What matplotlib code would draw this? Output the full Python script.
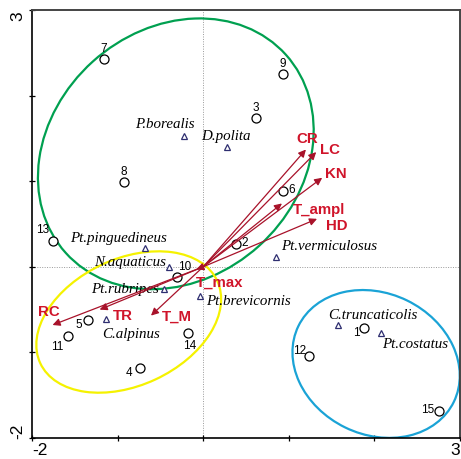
import matplotlib
matplotlib.use("Agg")
import matplotlib.pyplot as plt
from matplotlib.patches import Ellipse

# Site scores (numbered samples)
site_ids = ["1", "2", "3", "4", "5", "6", "7", "8", "9", "10", "11", "12", "13", "14", "15"]
site_x = [1.88, 0.38, 0.62, -0.74, -1.35, 0.93, -1.16, -0.93, 0.93, -0.31, -1.58, 1.24, -1.75, -0.18, 2.75]
site_y = [-0.71, 0.27, 1.74, -1.18, -0.62, 0.89, 2.43, 0.99, 2.25, -0.12, -0.81, -1.04, 0.30, -0.77, -1.68]

# Species scores
species = ["P.borealis", "D.polita", "Pt.pinguedineus", "N.aquaticus", "Pt.rubripes",
           "C.alpinus", "Pt.brevicornis", "Pt.vermiculosus", "C.truncaticolis", "Pt.costatus"]
species_x = [-0.23, 0.28, -0.68, -0.40, -0.46, -1.14, -0.04, 0.85, 1.57, 2.08]
species_y = [1.53, 1.40, 0.22, 0.00, -0.26, -0.61, -0.34, 0.12, -0.68, -0.77]

# Environmental variables (arrow tips)
env = ["CR", "LC", "KN", "T_ampl", "HD", "T_max", "RC", "TR", "T_M"]
env_x = [1.20, 1.32, 1.39, 0.92, 1.33, -0.08, -1.76, -1.21, -0.61]
env_y = [1.37, 1.34, 1.04, 0.74, 0.56, -0.03, -0.68, -0.50, -0.57]

# label placement, in pixels from the mark: (dx, dy, ha)
site_off = {"1": (-8, -4), "2": (9, 2), "3": (0, 11), "4": (-11, -4), "5": (-9, -4),
            "6": (9, 2), "7": (0, 11), "8": (0, 11), "9": (0, 11), "10": (8, 11),
            "11": (-11, -10), "12": (-10, 6), "13": (-11, 12), "14": (2, -12), "15": (-11, 2)}
species_off = {"P.borealis": (-19, 12, "center"), "D.polita": (-1, 11, "center"),
               "Pt.pinguedineus": (-26, 10, "center"), "N.aquaticus": (-3, 5, "right"),
               "Pt.rubripes": (-5, 1, "right"), "C.alpinus": (25, -14, "center"),
               "Pt.brevicornis": (6, -5, "left"), "Pt.vermiculosus": (5, 11, "left"),
               "C.truncaticolis": (35, 11, "center"), "Pt.costatus": (1, -11, "left")}
env_off = {"CR": (1, 12), "LC": (14, 3), "KN": (14, 5), "T_ampl": (37, -6), "HD": (20, -6),
           "T_max": (23, -12), "RC": (-4, 14), "TR": (23, -5), "T_M": (26, 0)}

fig = plt.figure(figsize=(4.61, 4.60), dpi=100)
ax = fig.add_axes([32 / 461, 21 / 460, 428 / 461, 428 / 460])
ax.set_xlim(-2, 3)
ax.set_ylim(-2, 3)

ax.axvline(0, color="#999999", lw=0.7, ls=(0, (1, 1.5)), zorder=0)
ax.axhline(0, color="#999999", lw=0.7, ls=(0, (1, 1.5)), zorder=0)

# group ellipses
ax.add_patch(Ellipse((-0.32, 1.32), 3.46, 2.9, angle=42, fill=False, ec="#00A050", lw=1.6, zorder=2))
ax.add_patch(Ellipse((-0.87, -0.645), 2.28, 1.48, angle=25, fill=False, ec="#F5F200", lw=1.6, zorder=2))
ax.add_patch(Ellipse((2.02, -1.135), 2.02, 1.65, angle=-26, fill=False, ec="#1AA3D6", lw=1.6, zorder=2))

ax.plot(site_x, site_y, "o", ms=6.5, mfc="white", mec="black", mew=0.9, zorder=3)
for s, x, y in zip(site_ids, site_x, site_y):
    dx, dy = site_off[s]
    ax.annotate(s, (x, y), xytext=(dx, dy), textcoords="offset pixels", ha="center", va="center",
                fontsize=8.5, family="Liberation Sans", zorder=4)

ax.plot(species_x, species_y, "^", ms=5, mfc="white", mec="#2E2E70", mew=0.9, zorder=3)
for s, x, y in zip(species, species_x, species_y):
    dx, dy, ha = species_off[s]
    ax.annotate(s, (x, y), xytext=(dx, dy), textcoords="offset pixels", ha=ha, va="center",
                fontsize=10.8, family="Liberation Serif", style="italic", zorder=4)

for name, x, y in zip(env, env_x, env_y):
    ax.annotate("", xy=(x, y), xytext=(0, 0),
                arrowprops=dict(arrowstyle="-|>", color="#A8122A", lw=0.9,
                                mutation_scale=11, shrinkA=0, shrinkB=0), zorder=5)
    dx, dy = env_off[name]
    ax.annotate(name, (x, y), xytext=(dx, dy), textcoords="offset pixels", ha="center", va="center",
                fontsize=10.8, family="Liberation Sans", weight="bold", color="#D0142A", zorder=6)

ax.set_xticks([-2, -1, 0, 1, 2, 3])
ax.set_yticks([-2, -1, 0, 1, 2, 3])
ax.set_xticklabels(["-2", "", "", "", "", "3"], fontsize=12.5, family="Liberation Sans")
ax.set_yticklabels(["-2", "", "", "", "", "3"], fontsize=12.5, family="Liberation Sans",
                   rotation=90)
xl = ax.get_xticklabels()
xl[0].set_ha("left")
xl[-1].set_ha("right")
yl = ax.get_yticklabels()
yl[0].set_va("bottom")
yl[-1].set_va("top")
ax.tick_params(direction="inout", length=4, width=0.9)
ax.tick_params(axis="x", pad=1)
ax.tick_params(axis="y", pad=3)

for side in ["left", "bottom"]:
    ax.spines[side].set_color("black")
    ax.spines[side].set_linewidth(1.2)
for side in ["top", "right"]:
    ax.spines[side].set_color("#444444")
    ax.spines[side].set_linewidth(1.4)

fig.savefig("out.png", dpi=100)
